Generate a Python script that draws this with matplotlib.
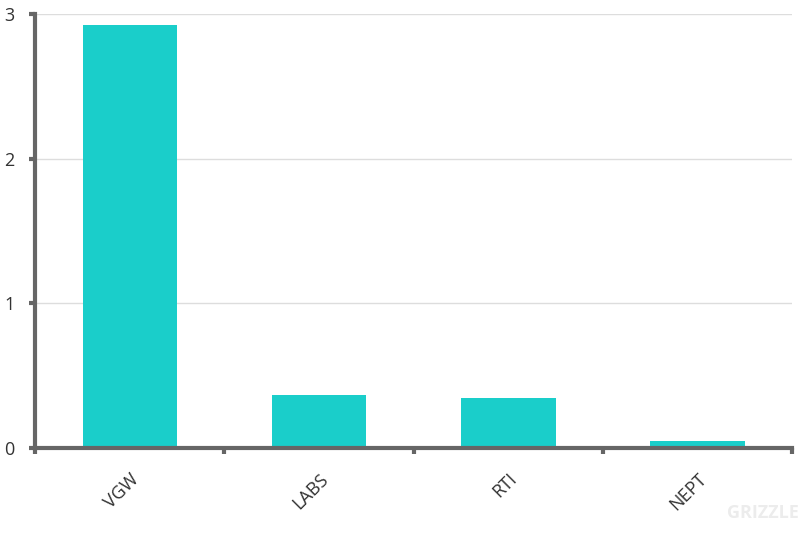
import numpy as np
import matplotlib.pyplot as plt

tickers = ['VGW', 'LABS', 'RTI', 'NEPT']
values = [2.92, 0.366, 0.346, 0.048]

plt.rcParams['font.family'] = ['Open Sans', 'DejaVu Sans']

fig = plt.figure(figsize=(8, 5.35), dpi=100)
ax = fig.add_axes([0.044, 0.163, 0.946, 0.811])

x = np.arange(len(tickers)) + 0.5
ax.bar(x, values, width=0.5, color='#1ACECA', zorder=2)

ax.set_xlim(0, len(tickers))
ax.set_ylim(0, 3)
ax.set_yticks([0, 1, 2, 3])
ax.set_xticks(x)
ax.set_xticklabels(tickers, rotation=45, ha='right', va='top', rotation_mode='anchor',
                   fontsize=13, color='#333333')
ax.set_xticks(np.arange(len(tickers) + 1), minor=True)
ax.tick_params(axis='x', which='major', length=0, pad=16)
ax.tick_params(axis='x', which='minor', length=4, width=3, color='#666666')
ax.tick_params(axis='y', length=4, width=3, color='#666666', labelsize=13,
               labelcolor='#333333', pad=11)

ax.grid(axis='y', color='#dddddd', linewidth=1, zorder=0)
for s in ['top', 'right']:
    ax.spines[s].set_visible(False)
for s in ['left', 'bottom']:
    ax.spines[s].set_color('#666666')
    ax.spines[s].set_linewidth(3)

fig.text(0.998, 0.025, 'GRIZZLE', ha='right', va='bottom', fontsize=13,
         color='#ececec', fontweight='bold')

fig.savefig('out.png', dpi=100)
